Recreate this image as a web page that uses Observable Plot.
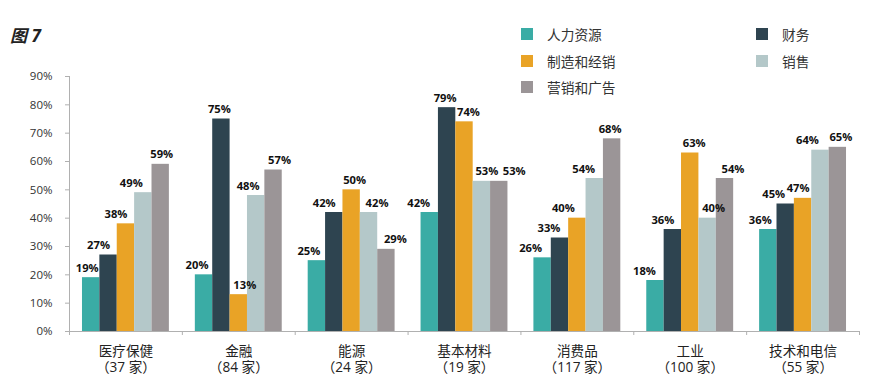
<!DOCTYPE html>
<html><head><meta charset="utf-8">
<script src="https://cdn.jsdelivr.net/npm/d3@7"></script>
<script src="https://cdn.jsdelivr.net/npm/@observablehq/plot@0.6"></script>
<style>
body{margin:0;background:#fff;}
#wrap{position:relative;width:870px;height:389px;font-family:"Open Sans","Noto Sans CJK SC",sans-serif;}
#title{position:absolute;left:10px;top:22px;font-size:17px;font-weight:bold;font-style:italic;color:#222;font-family:"Open Sans","Noto Sans CJK SC",sans-serif;}
#legend{position:absolute;left:521px;top:21px;display:grid;grid-template-columns:235px 100px;grid-auto-rows:26.4px;}
.item{display:flex;align-items:center;font-size:13.7px;color:#333;font-family:"Noto Sans CJK SC",sans-serif;}
.sw{width:12px;height:12px;margin-right:14px;flex:none;}
#chart svg{position:absolute;left:0;top:0;}
</style></head>
<body>
<div id="wrap"><div id="chart"></div><div id="title">图 7</div><div id="legend"></div></div>
<script>
const categories = ["医疗保健","金融","能源","基本材料","消费品","工业","技术和电信"];
const counts = ["（37 家）","（84 家）","（24 家）","（19 家）","（117 家）","（100 家）","（55 家）"];
const series = ["人力资源","财务","制造和经销","销售","营销和广告"];
const hr = [19,20,25,42,26,18,36];
const finance = [27,75,42,79,33,36,45];
const manufacturing = [38,13,50,74,40,63,47];
const sales = [49,48,42,53,54,40,64];
const marketing = [59,57,29,53,68,54,65];
const yTicks = [0,10,20,30,40,50,60,70,80,90];

const seriesValues = [hr, finance, manufacturing, sales, marketing];
const colors = ["#3aaca5","#2e4450","#e9a326","#b4c8c9","#9b9597"];
// styling: horizontal nudges (px) of value labels, as placed in the original, per category × series
const labelNudge = [
  [-4,-10,-10,-12,1],
  [-7,-2,6,-8,6],
  [-8,-10,3,8,9],
  [-11,-2,4,5,15],
  [-12,-11,-14,-11,-2],
  [-11,-10,4,6,8],
  [-8,-12,-5,-13,3]
];

const W = 870, H = 389, mL = 69, mR = 11, mT = 76, mB = 58;
const groupPx = (W - mL - mR) / categories.length;
const bw = 0.154, pad = (1 - 5*bw)/2;
const rows = [];
categories.forEach((c, i) => series.forEach((s, si) => rows.push({i, si, s, c, v: seriesValues[si][i]})));

const fontStack = "'Open Sans','Noto Sans CJK SC',sans-serif";
const marks = [
  Plot.rectY(rows, {x1: d => d.i + pad + d.si*bw, x2: d => d.i + pad + (d.si+1)*bw, y: "v", fill: d => colors[d.si]}),
  Plot.ruleX([0], {y1: 0, y2: 90, stroke: "#b0b0b0"}),
  Plot.ruleY([0], {stroke: "#b0b0b0"}),
  Plot.axisY({ticks: yTicks, tickFormat: d => d + "%", tickSize: 4, tickPadding: 13, stroke: "#b0b0b0", fill: "#333", fontSize: 11.5, label: null}),
  Plot.axisX({ticks: d3.range(categories.length + 1), tickFormat: () => "", tickSize: 4, stroke: "#b0b0b0", label: null}),
  Plot.text(categories, {x: (d, i) => i + 0.5, y: () => 0, text: d => d, lineAnchor: "middle", dy: 20.5, fontSize: 13.6, fill: "#222", fontFamily: fontStack}),
  Plot.text(counts, {x: (d, i) => i + 0.5, y: () => 0, text: d => d, lineAnchor: "middle", dy: 36.5, fontSize: 13.6, fill: "#222", fontFamily: fontStack}),
  Plot.text(rows, {
    x: d => d.i + pad + (d.si + 0.5)*bw + labelNudge[d.i][d.si] / groupPx, y: "v", text: d => d.v + "%",
    lineAnchor: "bottom", dy: -6, fontWeight: "bold", fontSize: 11.2, fill: "#111"
  })
];

const chart = Plot.plot({
  width: W, height: H,
  marginLeft: mL, marginRight: mR, marginTop: mT, marginBottom: mB,
  x: {domain: [0, categories.length], axis: null},
  y: {domain: [0, 90], axis: null},
  style: {fontFamily: fontStack, background: "transparent"},
  marks
});
document.getElementById("chart").appendChild(chart);

const legend = document.getElementById("legend");
series.forEach((s, si) => {
  const it = document.createElement("div"); it.className = "item";
  const sw = document.createElement("span"); sw.className = "sw"; sw.style.background = colors[si];
  it.appendChild(sw); it.appendChild(document.createTextNode(s));
  legend.appendChild(it);
});
</script>
</body></html>
